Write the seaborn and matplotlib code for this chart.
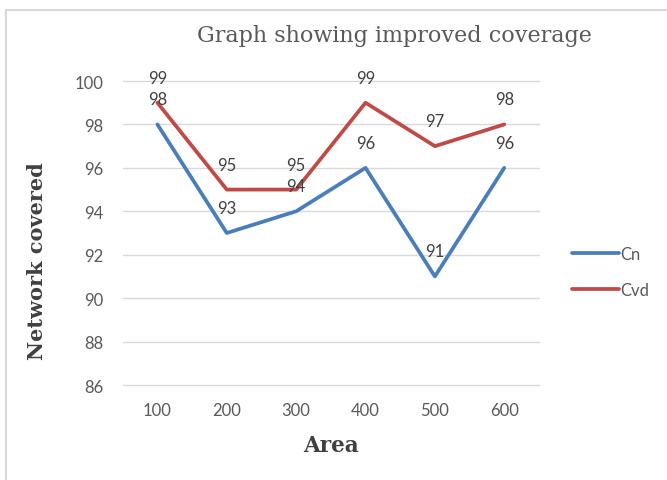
import matplotlib
matplotlib.use("Agg")
import matplotlib.pyplot as plt
from matplotlib.patches import Rectangle
import seaborn as sns
import pandas as pd

areas = ["100", "200", "300", "400", "500", "600"]
cn_values = [98, 93, 94, 96, 91, 96]
cvd_values = [99, 95, 95, 99, 97, 98]
series_names = ["Cn", "Cvd"]
y_ticks = [86, 88, 90, 92, 94, 96, 98, 100]

df = pd.DataFrame({
    "Area": areas * 2,
    "value": cn_values + cvd_values,
    "series": [series_names[0]] * len(areas) + [series_names[1]] * len(areas),
})

sns.set_theme(style="white")
plt.rcParams["font.family"] = ["Lato", "DejaVu Sans"]

palette = {"Cn": "#4A7EBB", "Cvd": "#BE4B48"}
tick_color = "#595959"
lw = 2.7

fig = plt.figure(figsize=(6.67, 4.81), dpi=100)
ax = fig.add_axes([0.184, 0.1975, 0.624, 0.632])

# light frame around the chart area
fig.patches.append(Rectangle((6 / 667, -0.1), 1.2, 1 - 11 / 481 + 0.1,
                             transform=fig.transFigure, fill=False,
                             edgecolor="#D9D9D9", linewidth=1.5, zorder=0))

sns.lineplot(data=df, x="Area", y="value", hue="series", palette=palette,
             linewidth=lw, ax=ax, legend=False, sort=False)

for name, vals in zip(series_names, [cn_values, cvd_values]):
    for i, v in enumerate(vals):
        ax.annotate(f"{v}", (i, v), xytext=(0, 18), textcoords="offset points",
                    ha="center", va="center", fontsize=12, color="#404040")

ax.set_xlim(-0.5, len(areas) - 0.5)
ax.set_ylim(86, 100)
ax.set_yticks(y_ticks)
ax.yaxis.grid(True, color="#D9D9D9", linewidth=1)
ax.xaxis.grid(False)
ax.set_axisbelow(True)
for gl in ax.get_ygridlines():
    gl.set_clip_on(False)
for s in ax.spines.values():
    s.set_visible(False)
ax.tick_params(axis="both", length=0, labelsize=12, colors=tick_color, pad=14)
ax.tick_params(axis="x", pad=12)

ax.set_xlabel("Area", family="DejaVu Serif", fontweight="bold", fontsize=15.5,
              color="#404040", labelpad=12)
ax.set_ylabel("Network covered", family="DejaVu Serif", fontweight="bold",
              fontsize=15, color="#404040")
ax.yaxis.set_label_coords(-0.183, 0.411)

fig.text(0.592, 0.925, "Graph showing improved coverage", family="DejaVu Serif",
         fontsize=16, color="#595959", ha="center", va="center")

# legend on the right
handles = [plt.Line2D([], [], color=palette[n], linewidth=lw) for n in series_names]
fig.legend(handles, series_names, loc="center left", bbox_to_anchor=(0.835, 0.433),
           frameon=False, fontsize=12, labelcolor=tick_color, handlelength=2.8,
           handletextpad=0.1, labelspacing=1.2)

fig.savefig("out.png", dpi=100)
